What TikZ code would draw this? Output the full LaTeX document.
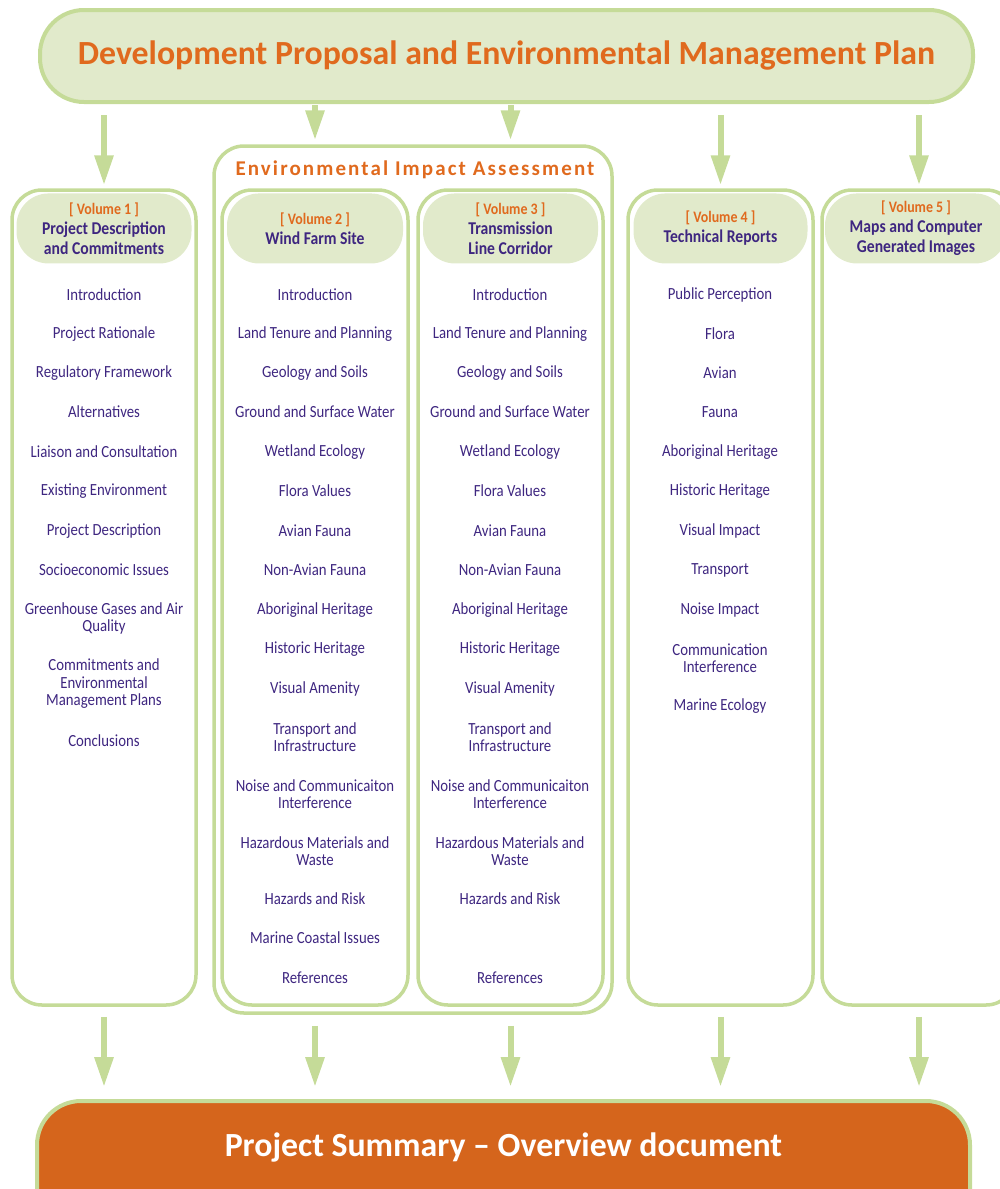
\documentclass[tikz,border=0pt]{standalone}
\usepackage{fontspec}
\setmainfont{Carlito}[FakeStretch=0.87]
\newfontfamily\bannerfont{Carlito}[Ligatures=TeX]
\usetikzlibrary{arrows.meta,positioning}

\definecolor{leafgreen}{RGB}{197,219,152}
\definecolor{palegreen}{RGB}{225,234,203}
\definecolor{rust}{RGB}{224,106,30}
\definecolor{plum}{RGB}{62,38,128}

\tikzset{
  banner/.style={draw=leafgreen, line width=4pt, rounded corners=44pt,
    fill=palegreen, inner sep=0pt, minimum width=933pt},
  volbox/.style={draw=leafgreen, line width=3.5pt, rounded corners=30pt,
    inner sep=0pt, minimum height=815pt},
  volhead/.style={fill=palegreen, rounded corners=32pt, minimum height=70pt,
    inner sep=0pt, align=center, text=plum,
    font=\bfseries\fontsize{18}{20}\selectfont},
  item/.style={text=plum, align=center, font=\fontsize{17}{17.5}\selectfont},
  flow/.style={draw=leafgreen, line width=6pt,
    -{Triangle[length=30pt,width=18pt,fill=leafgreen]}},
}
\newcommand{\volno}[1]{{\color{rust}\fontsize{16}{20}\selectfont [ Volume #1 ]}}

\begin{document}
\begin{tikzpicture}[x=1pt, y=-1pt]
  \useasboundingbox (0,0) rectangle (1000,1189);

  % top and bottom banners
  \node (plan) [banner, minimum height=92pt, text=rust,
    font=\bannerfont\bfseries\fontsize{33.8}{36}\selectfont] at (506.5,56)
    {Development Proposal and Environmental Management Plan};
  \node (summary) [banner, anchor=north, fill=rust!95!black, text=white,
    text height=55pt, text depth=80pt,
    font=\bannerfont\bfseries\fontsize{33.8}{36}\selectfont] at (503.5,1099)
    {Project Summary – Overview document};

  % volume boxes
  \node (eia) [volbox, minimum width=398pt, minimum height=867pt] at (413,579.5) {};
  \node (eiat) [text=rust, font=\bannerfont\bfseries\fontsize{21}{24}\selectfont\addfontfeature{LetterSpace=10}]
    at (415,170) {Environmental Impact Assessment};
  \node (vol1) [volbox, minimum width=184pt] at (104,597.5) {};
  \node (vol2) [volbox, minimum width=186pt] at (315,597.5) {};
  \node (vol3) [volbox, minimum width=185pt] at (510.5,597.5) {};
  \node (vol4) [volbox, minimum width=185pt] at (720.5,597.5) {};
  \node (vol5) [volbox, minimum width=194pt] at (919,597.5) {};

  % headings
  \node (head1) [volhead, minimum width=175pt, below=5pt of vol1.north]
    {\volno{1}\\Project Description\\and Commitments};
  \node (head2) [volhead, minimum width=176pt, below=5pt of vol2.north]
    {\volno{2}\\Wind Farm Site};
  \node (head3) [volhead, minimum width=175pt, below=5pt of vol3.north]
    {\volno{3}\\Transmission\\Line Corridor};
  \node (head4) [volhead, minimum width=174pt, below=5pt of vol4.north]
    {\volno{4}\\Technical Reports};
  \node (head5) [volhead, minimum width=182pt, below=5pt of vol5.north, xshift=-3pt]
    {\volno{5}\\Maps and Computer\\Generated Images};

  % chapter lists
  \foreach \y/\txt [count=\k] in {295/Introduction, 334/Project Rationale,
      373/Regulatory Framework, 412/Alternatives, 452/Liaison and Consultation,
      491/Existing Environment, 531/Project Description, 570/Socioeconomic Issues,
      618.5/{Greenhouse Gases and Air\\Quality},
      684/{Commitments and\\Environmental\\Management Plans}, 741/Conclusions}
    \node (a\k) [item] at (104,\y) {\txt};
  \foreach \y/\txt [count=\k] in {295/Introduction, 334/Land Tenure and Planning,
      373/Geology and Soils, 412/Ground and Surface Water, 452/Wetland Ecology,
      491/Flora Values, 531/Avian Fauna, 570/Non-Avian Fauna,
      610/Aboriginal Heritage, 649/Historic Heritage, 689/Visual Amenity,
      737/{Transport and\\Infrastructure}, 794/{Noise and Communicaiton\\Interference},
      851/{Hazardous Materials and\\Waste}, 899/Hazards and Risk,
      938/Marine Coastal Issues, 978/References}
    \node (b\k) [item] at (315,\y) {\txt};
  \foreach \y/\txt [count=\k] in {295/Introduction, 334/Land Tenure and Planning,
      373/Geology and Soils, 412/Ground and Surface Water, 452/Wetland Ecology,
      491/Flora Values, 531/Avian Fauna, 570/Non-Avian Fauna,
      610/Aboriginal Heritage, 649/Historic Heritage, 689/Visual Amenity,
      737/{Transport and\\Infrastructure}, 794/{Noise and Communicaiton\\Interference},
      851/{Hazardous Materials and\\Waste}, 899/Hazards and Risk, 978/References}
    \node (c\k) [item] at (510,\y) {\txt};
  \foreach \y/\txt [count=\k] in {295/Public Perception, 334/Flora, 373/Avian,
      412/Fauna, 452/Aboriginal Heritage, 491/Historic Heritage, 531/Visual Impact,
      570/Transport, 610/Noise Impact, 658/{Communication\\Interference},
      706/Marine Ecology}
    \node (d\k) [item] at (720,\y) {\txt};

  % arrows in
  \draw [flow, shorten <=11pt, shorten >=3pt] (plan.south -| vol1.north) -- (vol1.north);
  \draw [flow, shorten <=1pt, shorten >=4pt] (plan.south -| vol2.north) -- (vol2.north |- eia.north);
  \draw [flow, shorten <=1pt, shorten >=4pt] (plan.south -| vol3.north) -- (vol3.north |- eia.north);
  \draw [flow, shorten <=11pt, shorten >=3pt] (plan.south -| vol4.north) -- (vol4.north);
  \draw [flow, shorten <=11pt, shorten >=3pt] (plan.south -| vol5.north) -- (vol5.north);

  % arrows out
  \draw [flow, shorten <=10pt, shorten >=12pt] (vol1.south) -- (vol1.south |- summary.north);
  \draw [flow, shorten <=11pt, shorten >=12pt] (vol2.south |- eia.south) -- (vol2.south |- summary.north);
  \draw [flow, shorten <=11pt, shorten >=12pt] (vol3.south |- eia.south) -- (vol3.south |- summary.north);
  \draw [flow, shorten <=10pt, shorten >=12pt] (vol4.south) -- (vol4.south |- summary.north);
  \draw [flow, shorten <=10pt, shorten >=12pt] (vol5.south) -- (vol5.south |- summary.north);
\end{tikzpicture}
\end{document}
